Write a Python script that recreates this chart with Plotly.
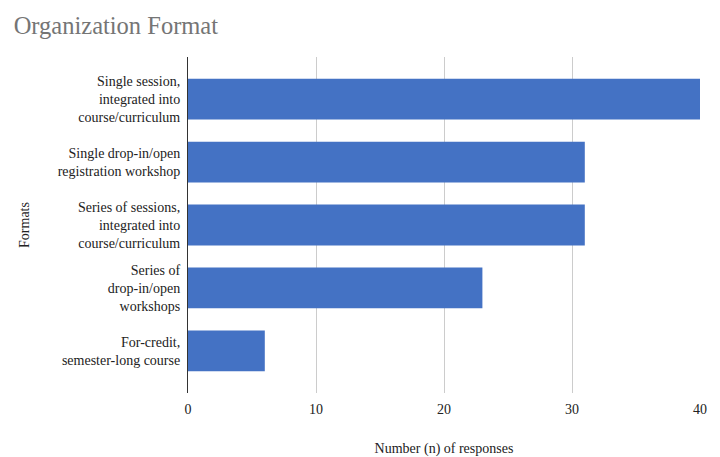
import plotly.graph_objects as go

categories = [
    "Single session,<br>integrated into<br>course/curriculum",
    "Single drop-in/open<br>registration workshop",
    "Series of sessions,<br>integrated into<br>course/curriculum",
    "Series of<br>drop-in/open<br>workshops",
    "For-credit,<br>semester-long course",
]
values = [40, 31, 31, 23, 6]
x_ticks = [0, 10, 20, 30, 40]

FONT = "Times New Roman, Liberation Serif, DejaVu Serif, serif"

fig = go.Figure(go.Bar(
    x=values, y=categories, orientation="h",
    marker=dict(color="#4472C4", line=dict(width=0)),
    width=0.65,
))

fig.update_layout(
    width=720, height=457,
    margin=dict(l=188, r=20, t=57, b=64, autoexpand=False),
    paper_bgcolor="white", plot_bgcolor="white",
    font=dict(family=FONT, size=14, color="#222222"),
    title=dict(text="Organization Format", x=0.019, xanchor="left", y=0.945, yanchor="middle",
               font=dict(family=FONT, size=24.5, color="#757575")),
    showlegend=False,
    bargap=0.35,
)
fig.update_xaxes(
    range=[0, 40], tickvals=x_ticks, showgrid=True, gridcolor="#CCCCCC", gridwidth=1,
    zeroline=False, showline=False, ticks="", ticklen=0, ticklabelstandoff=6,
    automargin=False,
    tickfont=dict(family=FONT, size=14, color="#222222"),
    title=dict(text="Number (n) of responses", font=dict(family=FONT, size=14, color="#222222"), standoff=30),
)
fig.update_yaxes(
    range=[4.67, -0.67], showgrid=False, showline=True, linecolor="#333333", linewidth=1,
    ticks="", ticklabelstandoff=4, automargin=False,
    tickfont=dict(family=FONT, size=14, color="#222222"),
    title=dict(text="Formats", font=dict(family=FONT, size=14, color="#222222"), standoff=24),
)

fig.write_html("out.html")
